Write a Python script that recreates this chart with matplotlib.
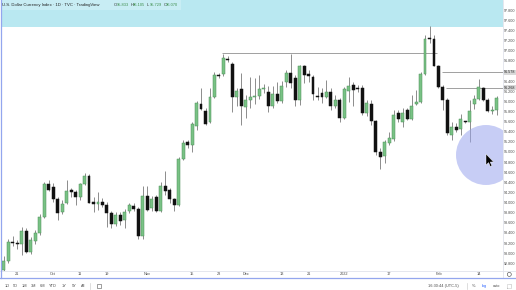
import matplotlib
matplotlib.use('Agg')
import matplotlib.pyplot as plt
from matplotlib.patches import Rectangle, Ellipse, Polygon
from matplotlib.lines import Line2D
import numpy as np
import pandas as pd

# ---------------- data ----------------
start_date = '2021-09-16'
end_date = '2022-02-18'
missing_dates = ['2021-12-24']

opens = [92.67, 92.84, 93.23, 93.21, 93.19, 93.44, 93.03, 93.25, 93.39, 93.72,
         94.36, 94.30, 94.07, 93.81, 93.99, 94.24, 94.20, 94.11, 94.37, 94.53,
         94.02, 93.98, 94.02, 93.96, 93.80, 93.58, 93.75, 93.65, 93.84, 93.94,
         93.87, 93.34, 94.13, 93.90, 94.11, 93.83, 94.33, 94.25, 94.07, 93.96,
         94.86, 95.19, 95.13, 95.51, 95.94, 95.81, 95.60, 96.08, 96.52, 96.54,
         96.84, 96.74, 96.09, 96.24, 95.89, 96.03, 96.08, 96.11, 96.24, 96.19,
         95.90, 96.14, 96.00, 96.38, 96.57, 96.46, 96.03, 96.69, 96.55, 96.49,
         96.09, 96.16, 96.09, 96.18, 95.91, 96.03, 95.68, 96.21, 96.32, 96.26,
         96.27, 95.77, 95.94, 95.61, 95.00, 94.93, 95.17, 95.26, 95.78, 95.60,
         95.83, 95.66, 95.94, 95.98, 96.55, 97.26, 97.23, 96.70, 96.29, 96.03,
         95.34, 95.49, 95.45, 95.60, 95.59, 95.95, 96.05, 96.27, 96.03, 95.81,
         95.833]
highs = [92.95, 93.29, 93.33, 93.27, 93.51, 93.50, 93.31, 93.46, 93.77, 94.41,
         94.45, 94.39, 94.11, 94.06, 94.45, 94.28, 94.25, 94.39, 94.59, 94.56,
         94.11, 94.21, 94.10, 94.02, 93.83, 93.81, 93.81, 93.88, 94.00, 93.99,
         93.92, 94.32, 94.32, 94.13, 94.15, 94.41, 94.62, 94.28, 94.10, 94.90,
         95.24, 95.24, 95.59, 96.00, 96.26, 95.86, 96.26, 96.58, 96.56, 96.93,
         96.89, 96.77, 96.26, 96.56, 96.12, 96.48, 96.46, 96.53, 96.35, 96.31,
         96.31, 96.38, 96.40, 96.62, 96.93, 96.52, 96.72, 96.72, 96.62, 96.52,
         96.29, 96.26, 96.42, 96.26, 96.13, 96.06, 96.29, 96.49, 96.39, 96.32,
         96.32, 96.03, 96.03, 95.63, 95.07, 95.24, 95.40, 95.83, 95.83, 95.86,
         95.86, 96.13, 96.22, 96.59, 97.31, 97.48, 97.31, 96.72, 96.32, 96.06,
         95.60, 95.57, 95.76, 95.61, 96.03, 96.13, 96.45, 96.29, 96.06, 95.90,
         96.105]
lows = [92.65, 92.81, 93.14, 93.09, 92.96, 93.01, 92.99, 93.18, 93.36, 93.69,
        94.22, 94.02, 93.65, 93.77, 93.98, 94.12, 93.95, 94.06, 94.35, 93.99,
        93.82, 93.86, 93.91, 93.51, 93.50, 93.53, 93.55, 93.50, 93.79, 93.83,
        93.28, 93.29, 93.83, 93.84, 93.81, 93.81, 94.15, 93.99, 93.83, 93.94,
        94.84, 95.08, 95.00, 95.44, 95.82, 95.54, 95.57, 96.06, 96.46, 96.50,
        96.77, 95.80, 95.91, 95.54, 95.67, 95.86, 95.95, 96.05, 96.17, 95.79,
        95.87, 95.96, 95.96, 96.29, 96.26, 95.90, 95.93, 96.36, 96.39, 96.03,
        96.03, 95.96, 96.06, 95.83, 95.86, 95.60, 95.66, 95.99, 95.90, 96.19,
        95.73, 95.71, 95.53, 94.94, 94.66, 94.78, 95.14, 95.22, 95.60, 95.50,
        95.63, 95.63, 95.93, 95.96, 96.52, 97.15, 96.69, 96.27, 95.83, 95.34,
        95.24, 95.40, 95.34, 95.57, 95.20, 95.85, 96.03, 96.01, 95.80, 95.76,
        95.729]
closes = [92.84, 93.23, 93.21, 93.19, 93.43, 93.03, 93.26, 93.39, 93.72, 94.36,
          94.24, 94.08, 93.79, 93.97, 94.23, 94.20, 94.11, 94.36, 94.53, 94.00,
          93.97, 94.02, 93.96, 93.80, 93.58, 93.76, 93.63, 93.82, 93.95, 93.87,
          93.34, 94.13, 93.86, 94.07, 93.83, 94.33, 94.22, 94.07, 93.96, 94.87,
          95.17, 95.14, 95.56, 95.96, 95.84, 95.56, 96.08, 96.52, 96.50, 96.85,
          96.81, 96.09, 96.21, 95.91, 96.03, 96.08, 96.11, 96.24, 96.25, 95.90,
          96.14, 96.00, 96.31, 96.57, 96.36, 96.03, 96.69, 96.53, 96.50, 96.14,
          96.08, 96.09, 96.18, 95.91, 96.03, 95.68, 96.24, 96.31, 96.22, 96.24,
          95.77, 95.96, 95.61, 94.99, 94.91, 95.19, 95.27, 95.74, 95.65, 95.78,
          95.66, 95.90, 95.98, 96.55, 97.23, 97.23, 96.70, 96.29, 96.03, 95.37,
          95.50, 95.43, 95.65, 95.59, 95.81, 96.05, 96.29, 96.03, 95.81, 95.83,
          96.070]

tick_dates = ['2021-09-21', '2021-10-01', '2021-10-11', '2021-10-19', '2021-11-01',
              '2021-11-15', '2021-11-23', '2021-12-01', '2021-12-13', '2021-12-21',
              '2022-01-03', '2022-01-17', '2022-02-01', '2022-02-14']
tick_labels = ['21', 'Oct', '11', '19', 'Nov', '15', '23', 'Dec', '13', '21',
               '2022', '17', 'Feb', '14']

price_ticks = [92.8 + 0.2 * k for k in range(26)]

# drawn horizontal lines: price, start date, end date (None = right edge)
line_prices = [96.95, 96.578, 96.268]
line_labels = [None, '96.578', '96.268']
line_starts = ['2021-11-24', '2022-02-02', '2022-02-03']
line_ends = ['2022-01-31', None, None]

title = 'U.S. Dollar Currency Index · 1D · TVC · TradingView'
ohlc_letters = ['O', 'H', 'L', 'C']
ohlc_values = ['95.833', '96.105', '95.729', '96.070']

# ---------------- figure ----------------
W, H = 516, 290
fig = plt.figure(figsize=(W / 100, H / 100), dpi=100)
fig.patch.set_facecolor('white')
plt.rcParams['font.family'] = ['Liberation Sans', 'DejaVu Sans']

def fx(x):
    return x / W

def fy(y):
    return 1 - y / H

ax_left, ax_right, ax_top, ax_bottom = 1, 503, 0, 271
ax = fig.add_axes([fx(ax_left), fy(ax_bottom), (ax_right - ax_left) / W,
                   (ax_bottom - ax_top) / H])
ax.patch.set_alpha(0)

dates = pd.bdate_range(start_date, end_date)
dates = dates[~dates.isin(pd.to_datetime(missing_dates))]
n = len(dates)
x = np.arange(n)
o = np.array(opens); h = np.array(highs); l = np.array(lows); c = np.array(closes)

# scale: bar step 4.48 px, first bar at 3.9 px ; price 97.8 at y=10.3, 50.6 px/unit
step, x0 = 4.48, 3.9
ax.set_xlim((ax_left - x0) / step, (ax_right - x0) / step)
ppu = 50.6
ax.set_ylim(97.8 - (ax_bottom - 10.3) / ppu, 97.8 + (10.3 - ax_top) / ppu)

# cyan overlay band at top
ax.add_patch(Rectangle((0, 1 - 27 / 271), 1, 27 / 271, transform=ax.transAxes,
                       facecolor='#b9e8f1', edgecolor='none', zorder=0))
ax.add_patch(Rectangle((0, 1 - 10 / 271), 180 / 502, 10 / 271, transform=ax.transAxes,
                       facecolor='#c8edf4', edgecolor='none', zorder=0.1))

up = c >= o
green_face = '#79c285'
green_edge = '#4d8f59'
black = '#111111'
wick_col = '#7a7a7a'

ax.vlines(x, l, h, color=wick_col, lw=0.6, zorder=2)
bottoms = np.minimum(o, c)
heights = np.maximum(np.abs(c - o), 0.02)
ax.bar(x[up], heights[up], bottom=bottoms[up], width=0.66, color=green_face,
       edgecolor=green_edge, linewidth=0.35, zorder=3)
ax.bar(x[~up], heights[~up], bottom=bottoms[~up], width=0.66, color=black,
       edgecolor=black, linewidth=0.35, zorder=3)

# horizontal drawn lines
xmax = ax.get_xlim()[1]
for p, s, e in zip(line_prices, line_starts, line_ends):
    xs = dates.get_loc(pd.Timestamp(s))
    xe = xmax if e is None else dates.get_loc(pd.Timestamp(e)) + 0.6
    ax.hlines(p, xs - 0.3, xe, color='#a0a0a0', lw=0.7, zorder=1.5)

# price axis
for sp in ax.spines.values():
    sp.set_visible(False)
ax.yaxis.tick_right()
ax.set_yticks(price_ticks)
ax.set_yticklabels([f'{v:.3f}' for v in price_ticks])
ax.tick_params(axis='y', length=0, pad=0.6, labelsize=2.7, labelcolor='#4a4a4a')

for p, lab in zip(line_prices, line_labels):
    if lab is None:
        continue
    ax.annotate(lab, xy=(1, p), xycoords=('axes fraction', 'data'),
                xytext=(0.45, 0), textcoords='offset points', fontsize=2.7,
                color='#222222', va='center', ha='left', annotation_clip=False,
                bbox=dict(boxstyle='square,pad=0.15', fc='#d9d9d9', ec='none'))

# time axis
tick_pos = [dates.get_loc(pd.Timestamp(d)) for d in tick_dates]
ax.set_xticks(tick_pos)
ax.set_xticklabels(tick_labels)
ax.tick_params(axis='x', length=0, pad=1.0, labelsize=2.8, labelcolor='#4a4a4a')

# highlight circle + cursor
ax.add_patch(Ellipse(((486 - ax_left) / 502, 1 - 155 / 271), 60 / 502, 60 / 271,
                     transform=ax.transAxes, facecolor='#9aa5ee', alpha=0.55,
                     edgecolor='none', zorder=5))
tip = (486, 154)
arrow = [(0, 0), (0, 11), (2.6, 8.6), (4.3, 12.5), (5.9, 11.8), (4.2, 8.0), (7.6, 8.0)]
fig.add_artist(Polygon([(fx(tip[0] + a), fy(tip[1] + b)) for a, b in arrow],
                       closed=True, transform=fig.transFigure, facecolor='black',
                       edgecolor='white', lw=0.3, zorder=6))

# frame lines
fig.add_artist(Line2D([fx(0), fx(516)], [fy(271.3)] * 2, color='#e0e3eb', lw=0.6))
fig.add_artist(Line2D([fx(502.6)] * 2, [fy(0), fy(277)], color='#e0e3eb', lw=0.6))
fig.add_artist(Line2D([fx(0), fx(516)], [fy(277.6)] * 2, color='#93a6ee', lw=0.9))
fig.add_artist(Line2D([fx(0.7)] * 2, [fy(0), fy(277.6)], color='#93a6ee', lw=0.9))

# title
t = fig.text(fx(2), fy(5.2), title, fontsize=3.1, color='#222222', va='center', ha='left')
ox = 114
for letter, val in zip(ohlc_letters, ohlc_values):
    fig.text(fx(ox), fy(5.2), letter, fontsize=2.9, color='#333333', va='center', ha='left')
    fig.text(fx(ox + 2.6), fy(5.2), val, fontsize=2.9, color='#3f8f4e', va='center', ha='left')
    ox += 16.5

# bottom toolbar
ranges = ['1D', '5D', '1M', '3M', '6M', 'YTD', '1Y', '5Y', 'All']
range_x = [7.3, 15.7, 24.0, 33.3, 42.7, 52.7, 64.3, 74.3, 82.7]
for s, xx in zip(ranges, range_x):
    fig.text(fx(xx), fy(285.6), s, fontsize=2.8, color='#4a4a4a', ha='center', va='center')
fig.add_artist(Line2D([fx(90)] * 2, [fy(282.5), fy(288.5)], color='#d0d0d0', lw=0.5))
fig.add_artist(Rectangle((fx(96.6), fy(287.6)), 4.4 / W, 4.0 / H, transform=fig.transFigure,
                         facecolor='none', edgecolor='#555555', lw=0.4))
fig.text(fx(443), fy(285.6), '16:30:44 (UTC-5)', fontsize=2.8, color='#4a4a4a',
         ha='center', va='center')
fig.add_artist(Line2D([fx(467)] * 2, [fy(282.5), fy(288.5)], color='#d0d0d0', lw=0.5))
fig.text(fx(474), fy(285.6), '%', fontsize=2.8, color='#4a4a4a', ha='center', va='center')
fig.text(fx(484), fy(285.6), 'log', fontsize=2.8, color='#2962ff', ha='center', va='center')
fig.text(fx(496.5), fy(285.6), 'auto', fontsize=2.8, color='#4a4a4a', ha='center', va='center')
fig.add_artist(Rectangle((fx(507), fy(287.6)), 4.2 / W, 4.0 / H, transform=fig.transFigure,
                         facecolor='none', edgecolor='#888888', lw=0.4, ls=(0, (1, 1))))
fig.add_artist(Ellipse((fx(509.3), fy(274.4)), 4.0 / W, 4.0 / H, transform=fig.transFigure,
                       facecolor='none', edgecolor='#555555', lw=0.45))

fig.savefig('out.png', dpi=100, facecolor='white')
